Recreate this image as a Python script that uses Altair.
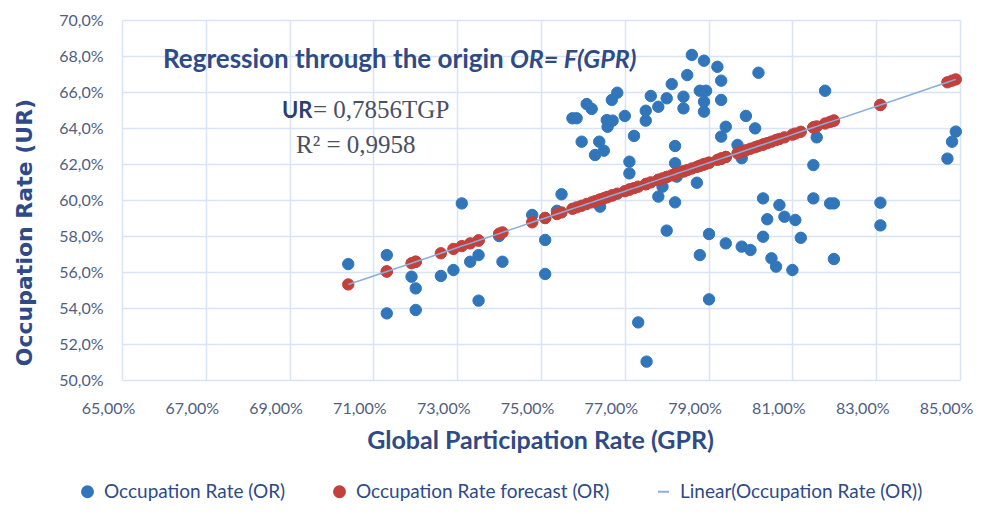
import altair as alt
import pandas as pd

S_OBS = "Occupation Rate (OR)"
S_FC = "Occupation Rate forecast (OR)"
S_LIN = "Linear(Occupation Rate (OR))"

# Global participation rate (%) of each observation
gpr = [70.40, 71.32, 71.32, 71.91, 72.01, 72.01, 72.61, 72.91, 73.11, 73.31,
       73.51, 73.51, 74.00, 74.08, 74.79, 75.10, 75.10, 75.38, 75.49, 75.75,
       75.85, 75.97, 76.09, 76.21, 76.29, 76.39, 76.41, 76.50, 76.57, 76.59,
       76.69, 76.71, 76.82, 77.00, 77.11, 77.11, 77.22, 77.32, 77.50, 77.50,
       77.52, 77.62, 77.80, 77.80, 77.90, 78.00, 78.00, 78.12, 78.20, 78.20,
       78.20, 78.24, 78.40, 78.40, 78.49, 78.60, 78.72, 78.79, 78.79, 78.89,
       78.89, 78.89, 78.94, 79.01, 79.01, 79.21, 79.30, 79.30, 79.30, 79.41,
       79.41, 79.69, 79.79, 79.79, 79.89, 80.00, 80.11, 80.19, 80.30, 80.30,
       80.40, 80.50, 80.61, 80.69, 80.81, 81.00, 81.07, 81.20, 81.50, 81.50,
       81.58, 81.78, 81.90, 81.99, 81.99, 83.10, 83.10, 84.70, 84.81, 84.90]

# Observed occupation rate (%)
or_obs = [56.44, 56.94, 53.70, 55.74, 55.09, 53.89, 55.78, 56.11, 59.81, 56.57,
          56.94, 54.41, 58.00, 56.57, 59.17, 57.78, 55.89, 59.40, 60.32, 64.54,
          64.54, 63.24, 65.33, 65.06, 62.50, 63.24, 59.63, 62.74, 64.44, 64.07,
          65.56, 64.41, 65.96, 64.67, 62.13, 61.48, 63.56, 53.20, 64.96, 64.41,
          51.02, 65.78, 65.18, 60.19, 60.74, 65.65, 58.30, 66.44, 63.00, 62.04,
          59.87, 61.30, 65.74, 65.09, 66.94, 68.06, 60.96, 66.07, 56.94, 67.74,
          65.46, 64.91, 66.07, 58.11, 54.48, 67.40, 66.63, 65.56, 63.52, 64.07,
          57.59, 63.06, 62.32, 57.41, 64.67, 57.22, 63.98, 67.07, 60.09, 57.96,
          58.93, 56.76, 56.30, 59.72, 59.07, 56.11, 58.89, 57.90, 61.94, 60.09,
          63.48, 66.07, 59.81, 59.81, 56.72, 59.85, 58.59, 62.30, 63.24, 63.80]

# Forecast occupation rate (%) (regression through the origin)
or_fc = [55.31, 56.03, 56.03, 56.49, 56.57, 56.57, 57.04, 57.28, 57.44, 57.59,
         57.75, 57.75, 58.13, 58.20, 58.76, 59.00, 59.00, 59.22, 59.31, 59.51,
         59.59, 59.68, 59.78, 59.87, 59.93, 60.01, 60.03, 60.10, 60.15, 60.17,
         60.25, 60.26, 60.35, 60.49, 60.58, 60.58, 60.66, 60.74, 60.88, 60.88,
         60.90, 60.98, 61.12, 61.12, 61.20, 61.28, 61.28, 61.37, 61.43, 61.43,
         61.43, 61.47, 61.59, 61.59, 61.66, 61.75, 61.84, 61.90, 61.90, 61.98,
         61.98, 61.98, 62.02, 62.07, 62.07, 62.23, 62.30, 62.30, 62.30, 62.39,
         62.39, 62.60, 62.68, 62.68, 62.76, 62.85, 62.93, 63.00, 63.08, 63.08,
         63.16, 63.24, 63.33, 63.39, 63.48, 63.63, 63.69, 63.79, 64.03, 64.03,
         64.09, 64.25, 64.34, 64.41, 64.41, 65.28, 65.28, 66.54, 66.63, 66.70]

x_ticks = [65, 67, 69, 71, 73, 75, 77, 79, 81, 83, 85]
y_ticks = [50, 52, 54, 56, 58, 60, 62, 64, 66, 68, 70]

rows = []
for g, o, f in zip(gpr, or_obs, or_fc):
    rows.append({"gpr": g, "val": o, "series": S_OBS})
    rows.append({"gpr": g, "val": f, "series": S_FC})
    rows.append({"gpr": g, "val": f, "series": S_LIN})
df = pd.DataFrame(rows)

BLUE = "#3176BA"
RED = "#C2413D"
LINE = "#8AAEDB"
NAVY = "#2E4A87"
TICK = "#4F607F"
GRID = "#D8E4F3"
FONT = "Lato"

domain = [S_OBS, S_FC, S_LIN]
crange = [BLUE, RED, LINE]

leg = alt.Legend(title=None, orient="none", legendX=-44, legendY=462,
                 direction="horizontal", labelFont=FONT, labelFontSize=19,
                 labelColor=NAVY, symbolSize=120, symbolStrokeWidth=2,
                 columnPadding=44, labelLimit=500, labelOffset=7)

color = alt.Color("series:N", scale=alt.Scale(domain=domain, range=crange), legend=leg)
shape = alt.Shape("series:N", scale=alt.Scale(domain=domain, range=["circle", "circle", "stroke"]), legend=leg)
stroke = alt.Stroke("series:N", scale=alt.Scale(domain=domain, range=crange), legend=leg)

x = alt.X("gpr:Q", scale=alt.Scale(domain=[65, 85], nice=False, zero=False),
          axis=alt.Axis(values=x_ticks, title="Global Participation Rate (GPR)",
                        labelExpr="replace(format(datum.value, '.2f'), '.', ',') + '%'",
                        labelFont=FONT, labelFontSize=16, labelColor=TICK,
                        labelPadding=20, labelOffset=-14, labelFlush=False,
                        labelOverlap=False, ticks=False, domain=False,
                        grid=True, gridColor=GRID, gridWidth=1.5,
                        titleFont=FONT, titleFontSize=25, titleFontWeight="bold",
                        titleColor=NAVY, titleX=418, titleY=60, titleBaseline="middle"))
y = alt.Y("val:Q", scale=alt.Scale(domain=[50, 70], nice=False, zero=False),
          axis=alt.Axis(values=y_ticks, title="Occupation Rate (UR)",
                        labelExpr="replace(format(datum.value, '.1f'), '.', ',') + '%'",
                        labelFont=FONT, labelFontSize=16, labelColor=TICK,
                        labelPadding=19, labelFlush=False, ticks=False, domain=False,
                        grid=True, gridColor=GRID, gridWidth=1.5,
                        titleFont="DejaVu Sans", titleFontSize=22, titleFontWeight="bold",
                        titleColor=NAVY, titleX=-98, titleY=212, titleBaseline="middle",
                        titleAngle=-90, titleAlign="center"))

obs = alt.Chart(df).transform_filter(alt.datum.series == S_OBS).mark_point(
    filled=True, size=130, opacity=1, strokeWidth=1
).encode(x=x, y=y, color=color, shape=shape, stroke=stroke)

fc = alt.Chart(df).transform_filter(alt.datum.series == S_FC).mark_point(
    filled=True, size=130, opacity=1, strokeWidth=1
).encode(x=x, y=y, color=color, shape=shape, stroke=stroke)

lin = alt.Chart(df).transform_filter(alt.datum.series == S_LIN).mark_line(
    strokeWidth=1.5
).encode(x=x, y=y, color=color, stroke=stroke, order="gpr:Q")

one = alt.Data(values=[{"k": 1}])

title1 = alt.Chart(one).mark_text(
    text="Regression through the origin", font=FONT, fontSize=26, fontWeight="bold",
    color=NAVY, align="left", baseline="alphabetic"
).encode(x=alt.value(41), y=alt.value(48))

title2 = alt.Chart(one).mark_text(
    text="OR= F(GPR)", font=FONT, fontSize=25, fontWeight="bold", fontStyle="italic",
    color=NAVY, align="left", baseline="alphabetic"
).encode(x=alt.value(388), y=alt.value(48))

eq_ur = alt.Chart(one).mark_text(
    text="UR", font=FONT, fontSize=22, fontWeight="bold",
    color="#2E3F6E", align="left", baseline="alphabetic"
).encode(x=alt.value(160), y=alt.value(98))

eq_rest = alt.Chart(one).mark_text(
    text="= 0,7856TGP", font="Liberation Serif", fontSize=25,
    color="#4A4F63", align="left", baseline="alphabetic"
).encode(x=alt.value(191), y=alt.value(98))

eq_r2 = alt.Chart(one).mark_text(
    text="R² = 0,9958", font="Liberation Serif", fontSize=25,
    color="#4A4F63", align="left", baseline="alphabetic"
).encode(x=alt.value(174), y=alt.value(133))

chart = alt.layer(obs, fc, lin, title1, title2, eq_ur, eq_rest, eq_r2).properties(
    width=838, height=360,
    autosize=alt.AutoSizeParams(type="none"),
    padding={"left": 114, "top": 12, "right": 20, "bottom": 124},
    background="white",
).configure_view(stroke=None)

chart.save("out.html", embed_options={"renderer": "svg", "actions": False})
